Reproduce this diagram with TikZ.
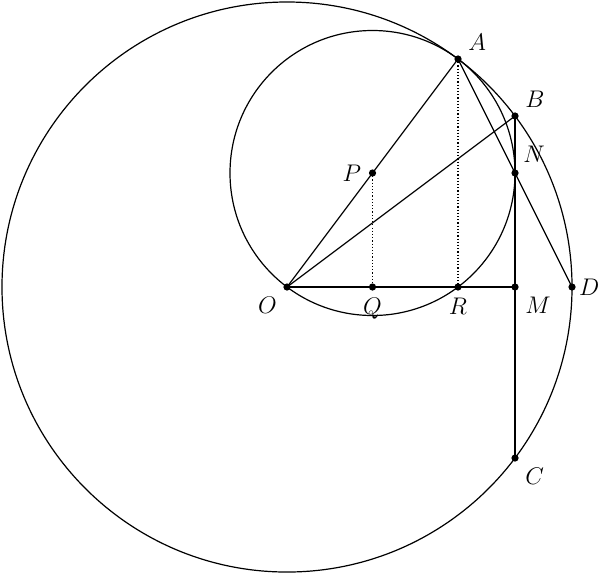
\documentclass[tikz,border=0pt]{standalone}
\usepackage{amsmath}
\usepackage{tikz}
\usetikzlibrary{positioning}

\tikzset{dot/.style={circle,fill,inner sep=0pt,minimum size=3.6pt}}

\begin{document}
\begin{tikzpicture}[line width=0.6pt]
  \useasboundingbox (-5.035,-5.018) rectangle (5.491,5.035);
  % points
  \coordinate (O) at (0,0);
  \coordinate (A) at (3,4);
  \coordinate (B) at (4,3);
  \coordinate (C) at (4,-3);
  \coordinate (D) at (5,0);
  \coordinate (M) at (4,0);
  \coordinate (N) at (4,2);
  \coordinate (P) at (1.5,2);
  \coordinate (Q) at (1.5,0);
  \coordinate (R) at (3,0);
  % circles
  \draw (O) circle (5cm);
  \draw (P) circle (2.5cm);
  % lines
  \draw (O) -- (A);
  \draw (O) -- (B);
  \draw (O) -- (M);
  \draw (A) -- (D);
  \draw (B) -- (C);
  \draw[densely dotted] (P) -- (Q);
  \draw[densely dotted] (A) -- (R);
  % dots and labels
  \foreach \p in {O,A,B,C,D,M,N,P,Q,R}
    \node[dot] (d\p) at (\p) {};
  \node[below left=0pt and 0pt of dO] {\large $O$};
  \node[above right=-1pt and 0pt of dA] {\large $A$};
  \node[above right=-1pt and 0pt of dB] {\large $B$};
  \node[below right=0pt and 0pt of dC] {\large $C$};
  \node[right=0pt of dD,inner sep=1.2pt] {\large $D$};
  \node[below right=0pt and 0pt of dM] {\large $M$};
  \node[above right=0pt and -1pt of dN] {\large $N$};
  \node[left=0pt of dP] {\large $P$};
  \node[below=0pt of dQ] {\large $Q$};
  \node[below=0pt of dR] {\large $R$};
\end{tikzpicture}
\end{document}
